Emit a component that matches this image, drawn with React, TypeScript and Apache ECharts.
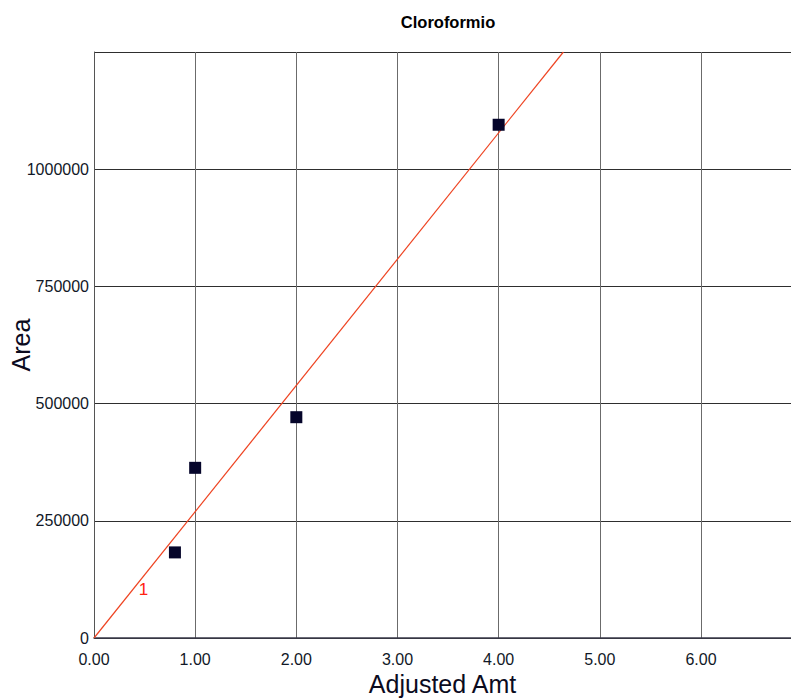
import React, { useEffect, useRef } from "react";
import * as echarts from "echarts";

// Calibration standards for chloroform
const amounts: number[] = [0.8, 1.0, 2.0, 4.0];
const areas: number[] = [182600, 363000, 471000, 1094800];

// Calibration curve #1, forced through the origin (area per unit amount)
const curveSlope = 269400;
const curveId = "1";
const curveLabelAt: [number, number] = [0.49, 104000];

const xTicks = { min: 0, max: 6.89, interval: 1 };
const yTicks = { min: 0, max: 1250000, interval: 250000 };

const FONT = "Liberation Sans, Arial, sans-serif";

export default function App() {
  const ref = useRef<HTMLDivElement>(null);

  useEffect(() => {
    if (!ref.current) return;
    const chart = echarts.init(ref.current, undefined, { renderer: "svg" });
    const curveEndX = yTicks.max / curveSlope;

    chart.setOption({
      animation: false,
      backgroundColor: "#ffffff",
      textStyle: { fontFamily: FONT },
      title: {
        text: "Cloroformio",
        left: 443,
        top: 8,
        textAlign: "center",
        textStyle: { fontFamily: FONT, fontSize: 16.5, fontWeight: "bold", color: "#000" },
      },
      grid: {
        left: 94,
        top: 52,
        right: 0,
        bottom: 61,
        containLabel: false,
        outerBoundsMode: "none",
      },
      xAxis: {
        type: "value",
        min: xTicks.min,
        max: xTicks.max,
        interval: xTicks.interval,
        name: "Adjusted Amt",
        nameLocation: "middle",
        nameGap: 33,
        nameMoveOverlap: false,
        nameTextStyle: { fontFamily: FONT, fontSize: 25, color: "#0b0b1e" },
        axisLine: { show: true, lineStyle: { color: "#3a3a4a", width: 1.5 } },
        axisTick: { show: false },
        axisLabel: {
          showMaxLabel: false,
          fontFamily: FONT,
          fontSize: 16,
          color: "#111827",
          margin: 13,
          formatter: (v: number) => v.toFixed(2),
        },
        splitLine: { show: true, lineStyle: { color: "#6b6b6b", width: 1 } },
      },
      yAxis: {
        type: "value",
        min: yTicks.min,
        max: yTicks.max,
        interval: yTicks.interval,
        name: "Area",
        nameLocation: "middle",
        nameGap: 61,
        nameMoveOverlap: false,
        nameTextStyle: { fontFamily: FONT, fontSize: 25, color: "#0b0b1e" },
        axisLine: { show: true, lineStyle: { color: "#555", width: 1 } },
        axisTick: { show: false },
        axisLabel: {
          showMaxLabel: false,
          fontFamily: FONT,
          fontSize: 16,
          color: "#111827",
          margin: 5,
          formatter: (v: number) => String(v),
        },
        splitLine: { show: true, lineStyle: { color: "#2e2e2e", width: 1.2 } },
      },
      series: [
        {
          type: "line",
          data: [
            [0, 0],
            [curveEndX, curveSlope * curveEndX],
          ],
          symbol: "none",
          lineStyle: { color: "#ee4422", width: 1.2 },
          z: 3,
          markPoint: {
            symbol: "circle",
            symbolSize: 0,
            data: [{ coord: curveLabelAt, value: curveId }],
            label: {
              show: true,
              formatter: curveId,
              color: "#ff2211",
              fontFamily: FONT,
              fontSize: 17,
              position: "inside",
            },
          },
        },
        {
          type: "scatter",
          data: amounts.map((a, i) => [a, areas[i]]),
          symbol: "rect",
          symbolSize: 12,
          itemStyle: { color: "#05052a", opacity: 1 },
          z: 4,
        },
      ],
    });
    return () => chart.dispose();
  }, []);

  return (
    <div
      ref={ref}
      style={{ position: "fixed", left: 0, top: 0, width: 791, height: 699 }}
    />
  );
}
